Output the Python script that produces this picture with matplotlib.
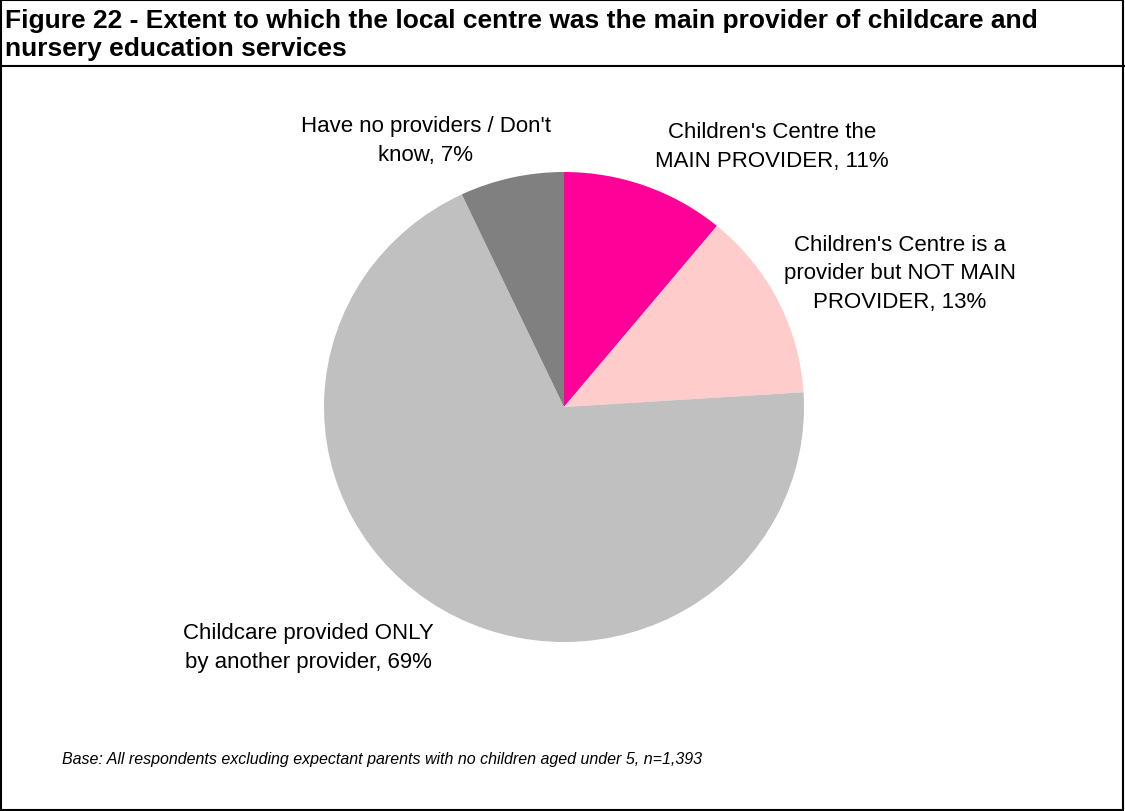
import matplotlib.pyplot as plt
from matplotlib.patches import Rectangle
from matplotlib.lines import Line2D

# Survey shares, clockwise from 12 o'clock
categories = [
    "Children's Centre the\nMAIN PROVIDER",
    "Children's Centre is a\nprovider but NOT MAIN\nPROVIDER",
    "Childcare provided ONLY\nby another provider",
    "Have no providers / Don't\nknow",
]
shares = [11, 13, 69, 7]
colours = ["#FF0099", "#FFCCCC", "#C0C0C0", "#808080"]

# label centres in pixel space (x, y from top)
label_pos = [(772, 147), (900, 274), (308, 648), (426, 141)]

W, H = 1125, 812
plt.rcParams['font.family'] = ['Liberation Sans', 'DejaVu Sans']

fig = plt.figure(figsize=(W / 100, H / 100), dpi=100)

# pie is slightly squashed vertically
cx, cy, rx, ry = 564, 408, 240, 235
ax = fig.add_axes([(cx - rx) / W, (H - cy - ry) / H, 2 * rx / W, 2 * ry / H])
ax.pie(shares, colors=colours, startangle=90, counterclock=False,
       radius=1, frame=False, wedgeprops=dict(linewidth=0))
ax.set_aspect('auto')
ax.set_xlim(-1, 1)
ax.set_ylim(-1, 1)
ax.axis('off')

for cat, val, (px, py) in zip(categories, shares, label_pos):
    fig.text(px / W, 1 - py / H, f"{cat}, {val}%", ha='center', va='center',
             fontsize=16, linespacing=1.45)

fig.text(5 / W, 1 - 9 / H,
         "Figure 22 - Extent to which the local centre was the main provider of childcare and\n"
         "nursery education services",
         ha='left', va='top', fontsize=19, fontweight='bold', linespacing=1.2)

fig.text(62 / W, 1 - 760 / H,
         "Base: All respondents excluding expectant parents with no children aged under 5, n=1,393",
         ha='left', va='center', fontsize=11.5, style='italic')

# outer frame and rule under the heading
fig.add_artist(Rectangle((1 / W, 1 / H), (W - 3) / W, (H - 2) / H, transform=fig.transFigure,
                         fill=False, edgecolor='black', linewidth=1.5))
fig.add_artist(Line2D([0, 1], [1 - 67 / H, 1 - 67 / H], transform=fig.transFigure,
                      color='black', linewidth=1.5))

fig.savefig('out.png', dpi=100)
